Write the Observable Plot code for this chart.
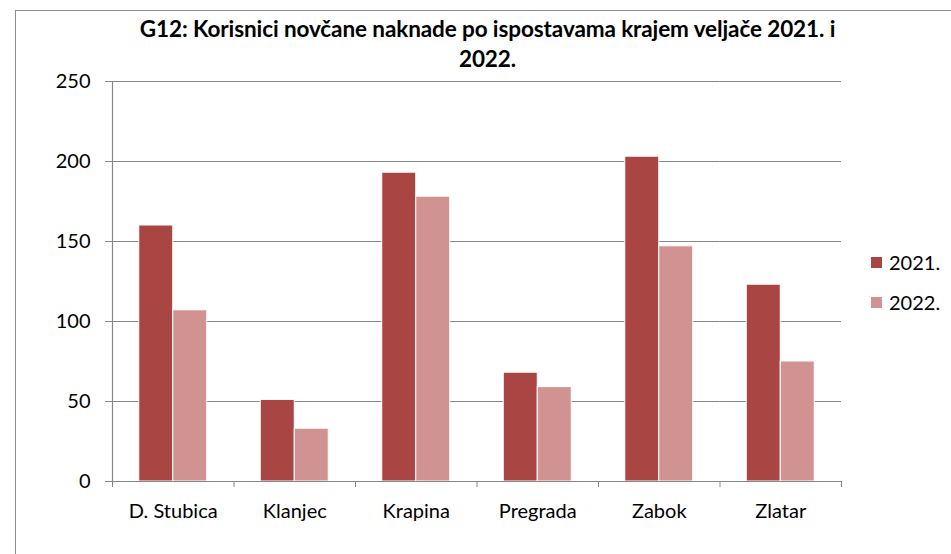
<!DOCTYPE html>
<html><head><meta charset="utf-8">
<script src="https://cdn.jsdelivr.net/npm/d3@7"></script>
<script src="https://cdn.jsdelivr.net/npm/@observablehq/plot@0.6"></script>
<style>
html,body{margin:0;padding:0;background:#fff;}
body{width:951px;height:554px;overflow:hidden;position:relative;font-family:Lato,"Open Sans",sans-serif;color:#000;}
#frame{position:absolute;left:15px;top:10px;width:1000px;height:700px;border:1.5px solid #8c8c8c;}
#title{position:absolute;left:0;width:975px;top:14px;text-align:center;font-weight:bold;font-size:22.5px;line-height:30px;letter-spacing:-0.1px;}
#chart{position:absolute;left:0;top:60px;}
#legend{position:absolute;left:871px;top:242px;font-size:20px;}
.item{display:flex;align-items:center;height:40px;}
.sw{width:11px;height:11px;margin-right:7px;}
</style>
</head><body>
<div id="frame"></div>
<div id="title">G12: Korisnici novčane naknade po ispostavama krajem veljače 2021. i<br>2022.</div>
<div id="chart"></div>
<div id="legend"></div>
<script>
const categories = ["D. Stubica","Klanjec","Krapina","Pregrada","Zabok","Zlatar"];
const series = ["2021.","2022."];
const values2021 = [160,51,193,68,203,123];
const values2022 = [107,33,178,59,147,75];
const yTicks = [0,50,100,150,200,250];
const colors = ["#A94644","#D19391"];

const data = categories.flatMap((c,i)=>[
  {category:c, year:series[0], value:values2021[i]},
  {category:c, year:series[1], value:values2022[i]}
]);
const axisColor = "#878787";
const chart = Plot.plot({
  width:951, height:480, marginLeft:112, marginRight:110, marginTop:21, marginBottom:59,
  style:{fontFamily:"Lato, sans-serif", fontSize:"20px", color:"#000", background:"transparent"},
  fx:{domain:categories, paddingInner:0, paddingOuter:0, round:false, label:null},
  x:{domain:series, paddingInner:0, paddingOuter:0.787, round:false, axis:null},
  y:{domain:[0,250], label:null},
  color:{domain:series, range:colors},
  marks:[
    Plot.gridY(yTicks,{stroke:axisColor, strokeOpacity:1, strokeWidth:1}),
    Plot.barY(data,{fx:"category", x:"year", y:"value", fill:"year", stroke:"white", strokeWidth:1}),
    Plot.ruleY([0],{stroke:axisColor, strokeWidth:1.2}),
    Plot.frame({anchor:"left", facet:"super", stroke:axisColor, strokeWidth:1.2}),
    Plot.axisY({ticks:yTicks, tickSize:7, tickPadding:15, stroke:axisColor, fill:"#000", label:null}),
    Plot.axisFx({anchor:"bottom", tickSize:0, tickPadding:22, fill:"#000", label:null}),
    Plot.axisFx({anchor:"bottom", text:null, tickSize:6, dx:-60.75, stroke:axisColor, label:null}),
    Plot.axisFx({anchor:"bottom", ticks:[categories[categories.length-1]], text:null, tickSize:6, dx:60.75, stroke:axisColor, label:null})
  ]
});
document.getElementById("chart").appendChild(chart);
const legend = document.getElementById("legend");
series.forEach((s,i)=>{
  const it = document.createElement("div"); it.className="item";
  const sw = document.createElement("div"); sw.className="sw"; sw.style.background=colors[i];
  const t = document.createElement("span"); t.textContent=s;
  it.appendChild(sw); it.appendChild(t); legend.appendChild(it);
});
</script>
</body></html>
